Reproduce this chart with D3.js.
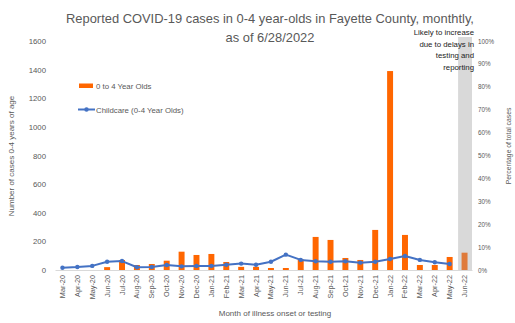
<!DOCTYPE html>
<html>
<head>
<meta charset="utf-8">
<script src="https://cdn.jsdelivr.net/npm/d3@7/dist/d3.min.js"></script>
<style>
  html, body { margin: 0; padding: 0; background: #fff; }
  svg { display: block; font-family: "Liberation Sans", Arial, sans-serif; }
</style>
</head>
<body>
<svg id="chart" width="515" height="323"></svg>
<script>
// Months of illness onset or testing
const months = ["Mar-20","Apr-20","May-20","Jun-20","Jul-20","Aug-20","Sep-20","Oct-20","Nov-20","Dec-20",
  "Jan-21","Feb-21","Mar-21","Apr-21","May-21","Jun-21","Jul-21","Aug-21","Sep-21","Oct-21","Nov-21","Dec-21",
  "Jan-22","Feb-22","Mar-22","Apr-22","May-22","Jun-22"];

// Reported cases among 0-4 year olds per month
const cases0to4 = [0, 0, 0, 20, 70, 35, 42, 65, 128, 105,
  112, 56, 22, 22, 14, 14, 75, 231, 210, 84, 70, 280,
  1390, 245, 35, 35, 91, 121];

// Childcare share of total cases (percent); no value for the latest month
const childcarePct = [1.0, 1.3, 1.8, 3.6, 3.9, 1.2, 1.3, 2.2, 1.6, 1.8,
  1.8, 2.3, 2.8, 2.3, 3.6, 6.7, 4.4, 3.8, 3.6, 3.8, 3.2, 3.6,
  4.8, 6.1, 4.4, 3.4, 2.6, null];

const leftTicks = [0, 200, 400, 600, 800, 1000, 1200, 1400, 1600];
const rightTicks = [0, 10, 20, 30, 40, 50, 60, 70, 80, 90, 100];

// Month still expected to grow from reporting delays
const incompleteMonth = "Jun-22";

const svg = d3.select("#chart");
const textGray = "#595959";

const plot = { left: 55, right: 472, top: 41, bottom: 270 };

const x = d3.scaleBand().domain(months).range([plot.left, plot.right]).paddingInner(0.6).paddingOuter(0.3);
const xBand = d3.scaleBand().domain(months).range([plot.left, plot.right]).padding(0);
const yLeft = d3.scaleLinear().domain([0, 1600]).range([plot.bottom, plot.top]);
const yRight = d3.scaleLinear().domain([0, 100]).range([plot.bottom, plot.top]);

// Shaded column for the incomplete month
svg.append("rect")
  .attr("x", xBand(incompleteMonth) + 1)
  .attr("y", 37)
  .attr("width", xBand.bandwidth() - 1)
  .attr("height", plot.bottom - 37)
  .attr("fill", "#D9D9D9");

// Title
const title = svg.append("text")
  .attr("x", 270).attr("text-anchor", "middle")
  .attr("fill", textGray).attr("font-size", 12.9);
title.append("tspan").attr("x", 270).attr("y", 23).text("Reported COVID-19 cases in 0-4 year-olds in Fayette County, monthtly,");
title.append("tspan").attr("x", 270).attr("y", 42).text("as of 6/28/2022");

// Left axis
const leftAxis = svg.append("g")
  .attr("transform", `translate(${plot.left - 6},0)`)
  .call(d3.axisLeft(yLeft).tickValues(leftTicks).tickSize(0).tickPadding(3).tickFormat(d3.format("d")));
leftAxis.select(".domain").remove();
leftAxis.selectAll("text").attr("fill", textGray).attr("font-size", 7.8)
  .attr("font-family", "Liberation Sans, Arial, sans-serif");

// Right axis
const rightAxis = svg.append("g")
  .attr("transform", `translate(${plot.right + 3},0)`)
  .call(d3.axisRight(yRight).tickValues(rightTicks).tickSize(0).tickPadding(3).tickFormat(d => d + "%"));
rightAxis.select(".domain").remove();
rightAxis.selectAll("text").attr("fill", textGray).attr("font-size", 6.3)
  .attr("font-family", "Liberation Sans, Arial, sans-serif");

// Bars
svg.append("g").selectAll("rect")
  .data(months.map((m, i) => ({ m, v: cases0to4[i] })))
  .join("rect")
  .attr("x", d => x(d.m))
  .attr("y", d => yLeft(d.v))
  .attr("width", x.bandwidth())
  .attr("height", d => yLeft(0) - yLeft(d.v))
  .attr("fill", d => d.m === incompleteMonth ? "#DF7A3A" : "#FF6600");

// Baseline
const xAxis = svg.append("g")
  .attr("transform", `translate(0,${plot.bottom})`)
  .call(d3.axisBottom(xBand).tickSize(0).tickPadding(0));
xAxis.select(".domain").attr("stroke", "#D9D9D9").attr("stroke-width", 1);
xAxis.selectAll("text")
  .attr("fill", textGray).attr("font-size", 7.3)
  .attr("font-family", "Liberation Sans, Arial, sans-serif")
  .attr("text-anchor", "end")
  .attr("dy", null)
  .attr("transform", "translate(2.5,5) rotate(-90)");

// Childcare percentage line
const linePts = months.map((m, i) => ({ m, v: childcarePct[i] })).filter(d => d.v !== null);
const line = d3.line()
  .x(d => xBand(d.m) + xBand.bandwidth() / 2)
  .y(d => yRight(d.v));
svg.append("path")
  .datum(linePts)
  .attr("d", line)
  .attr("fill", "none")
  .attr("stroke", "#4472C4")
  .attr("stroke-width", 2)
  .attr("stroke-linejoin", "round");
svg.append("g").selectAll("circle")
  .data(linePts)
  .join("circle")
  .attr("cx", d => xBand(d.m) + xBand.bandwidth() / 2)
  .attr("cy", d => yRight(d.v))
  .attr("r", 2.2)
  .attr("fill", "#4472C4");

// Axis titles
svg.append("text")
  .attr("transform", "translate(14,156) rotate(-90)")
  .attr("text-anchor", "middle").attr("fill", textGray).attr("font-size", 8)
  .text("Number of cases 0-4 years of age");
svg.append("text")
  .attr("transform", "translate(511,146) rotate(-90)")
  .attr("text-anchor", "middle").attr("fill", textGray).attr("font-size", 6.8)
  .text("Percentage of total cases");
svg.append("text")
  .attr("x", 275).attr("y", 316)
  .attr("text-anchor", "middle").attr("fill", textGray).attr("font-size", 8)
  .text("Month of illness onset or testing");

// Legend
const legend = svg.append("g");
legend.append("rect").attr("x", 79).attr("y", 83.5).attr("width", 14).attr("height", 4.5).attr("fill", "#FF6600");
legend.append("text").attr("x", 96).attr("y", 89).attr("fill", textGray).attr("font-size", 7.8).text("0 to 4 Year Olds");
legend.append("line").attr("x1", 78).attr("x2", 95).attr("y1", 109.5).attr("y2", 109.5)
  .attr("stroke", "#4472C4").attr("stroke-width", 2);
legend.append("circle").attr("cx", 86.5).attr("cy", 109.5).attr("r", 2.2).attr("fill", "#4472C4");
legend.append("text").attr("x", 96).attr("y", 112.5).attr("fill", textGray).attr("font-size", 7.8).text("Childcare (0-4 Year Olds)");

// Note on the incomplete month
const note = ["Likely to increase", "due to delays in", "testing and", "reporting"];
svg.append("g").selectAll("text")
  .data(note)
  .join("text")
  .attr("x", 474)
  .attr("y", (d, i) => 35 + i * 11.6)
  .attr("text-anchor", "end")
  .attr("fill", "#222")
  .attr("font-size", 7.8)
  .text(d => d);
</script>
</body>
</html>
